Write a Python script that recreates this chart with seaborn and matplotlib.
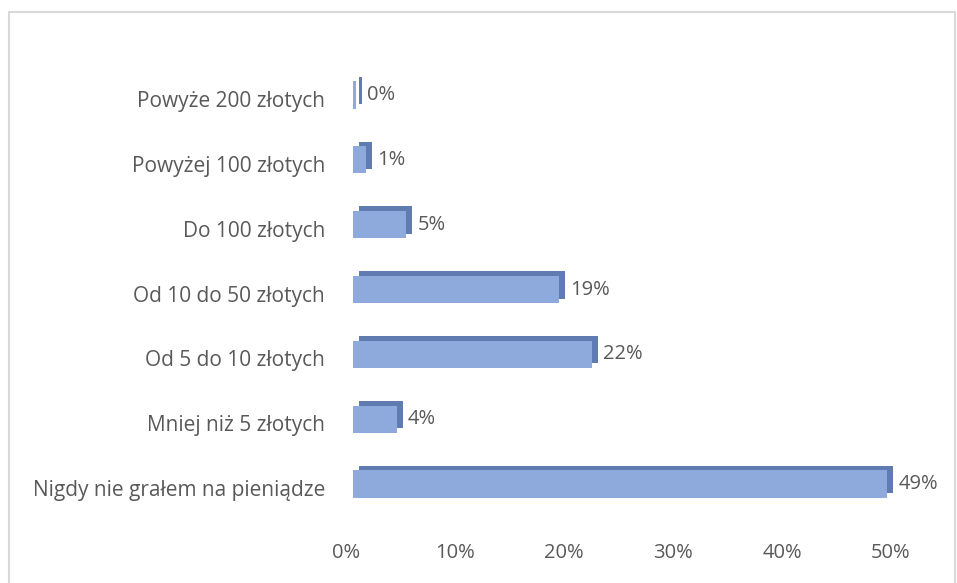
import matplotlib
matplotlib.use("Agg")
import matplotlib.pyplot as plt
import matplotlib.patheffects as pe
import matplotlib.transforms as mtransforms
from matplotlib.patches import Rectangle
import seaborn as sns
import pandas as pd

categories = [
    "Powyże 200 złotych",
    "Powyżej 100 złotych",
    "Do 100 złotych",
    "Od 10 do 50 złotych",
    "Od 5 do 10 złotych",
    "Mniej niż 5 złotych",
    "Nigdy nie grałem na pieniądze",
]
values = [0.3, 1.2, 4.9, 18.9, 21.9, 4.0, 49.0]
labels = ["0%", "1%", "5%", "19%", "22%", "4%", "49%"]
xticks = [0, 10, 20, 30, 40, 50]
xticklabels = ["0%", "10%", "20%", "30%", "40%", "50%"]

df = pd.DataFrame({"cat": categories, "val": values})

sns.set_style("white")
plt.rcParams["font.family"] = ["Open Sans", "DejaVu Sans"]

TEXT = "#595959"
FRONT = "#8EA9DB"
SIDE = "#5F7BAF"

fig = plt.figure(figsize=(9.57, 5.83), dpi=100)
ax = fig.add_axes([353 / 957, 0.1142, (898 - 353) / 957, 0.8926 - 0.1142])

sns.barplot(data=df, x="val", y="cat", orient="h", color=FRONT,
            saturation=1, width=0.42, ax=ax, linewidth=0)

for p in ax.patches:
    p.set_path_effects([
        pe.SimplePatchShadow(offset=(4.3, 3.3), shadow_rgbFace=SIDE, alpha=1.0),
        pe.Normal(),
    ])
    p.set_clip_on(False)

down = mtransforms.ScaledTranslation(0, -3 / 100, fig.dpi_scale_trans)
texts = ax.bar_label(ax.containers[0], labels=labels, padding=8,
                     fontsize=14.5, color=TEXT)
for t in texts:
    t.set_transform(t.get_transform() + down)

ax.set_xlim(0, 50)
ax.set_ylim(6.5, -0.5)
ax.set_xticks(xticks)
ax.set_xticklabels(xticklabels)
ax.tick_params(axis="x", length=0, pad=19, labelsize=14.5, labelcolor=TEXT)
ax.tick_params(axis="y", length=0, pad=20, labelsize=15, labelcolor=TEXT)
shift = mtransforms.ScaledTranslation(-7 / 100, 0, fig.dpi_scale_trans)
for lbl in ax.get_xticklabels():
    lbl.set_transform(lbl.get_transform() + shift)
ydown = mtransforms.ScaledTranslation(0, -4 / 100, fig.dpi_scale_trans)
for lbl in ax.get_yticklabels():
    lbl.set_transform(lbl.get_transform() + ydown)
ax.set_xlabel("")
ax.set_ylabel("")
for s in ax.spines.values():
    s.set_visible(False)
ax.grid(False)
ax.set_facecolor("none")

fig.patches.append(Rectangle((9 / 957, -0.05), (955 - 9) / 957, 1.05 - 12 / 583,
                             transform=fig.transFigure, fill=False,
                             edgecolor="#D9D9D9", linewidth=1.5))

fig.savefig("out.png", dpi=100, facecolor="white")
